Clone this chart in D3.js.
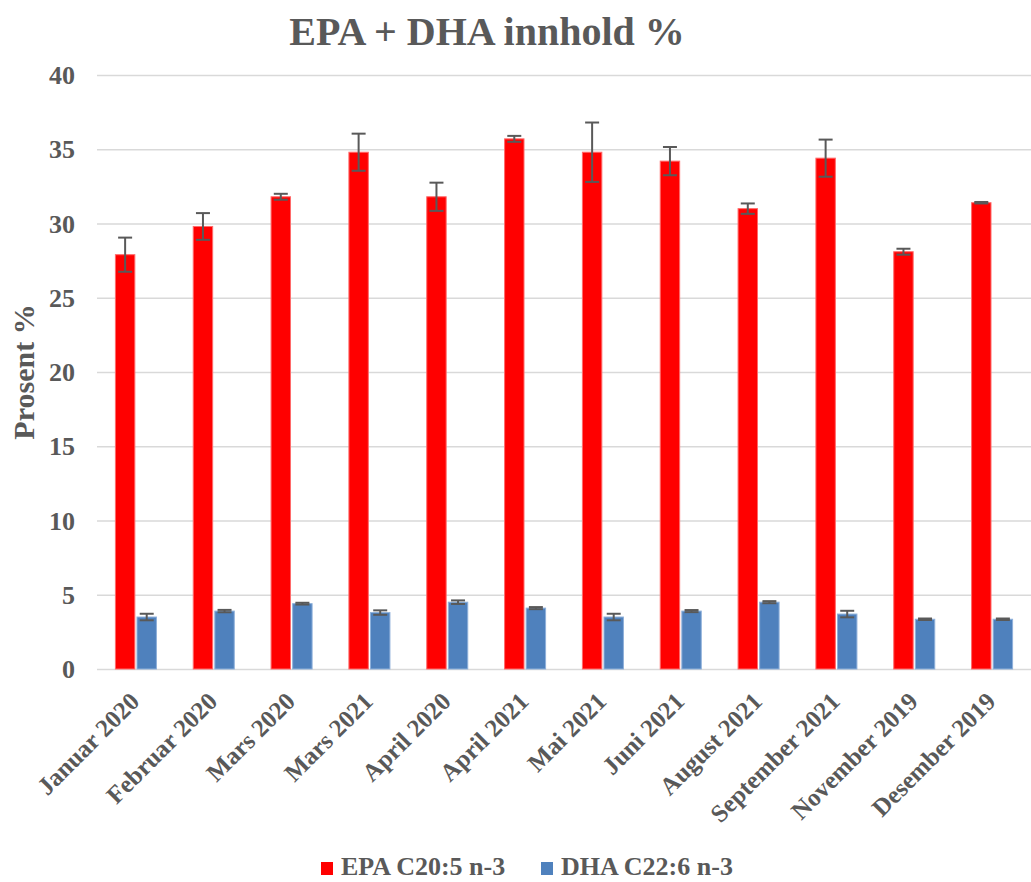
<!DOCTYPE html>
<html>
<head>
<meta charset="utf-8">
<script src="https://cdn.jsdelivr.net/npm/d3@7"></script>
</head>
<body style="margin:0;padding:0;background:#fff;">
<svg id="chart" width="1031" height="882" style="display:block;"></svg>
<script>
const categories = ["Januar 2020", "Februar 2020", "Mars 2020", "Mars 2021", "April 2020", "April 2021",
  "Mai 2021", "Juni 2021", "August 2021", "September 2021", "November 2019", "Desember 2019"];
const seriesNames = ["EPA C20:5 n-3", "DHA C22:6 n-3"];
const epaValues = [27.9, 29.8, 31.8, 34.8, 31.8, 35.7, 34.8, 34.2, 31.0, 34.4, 28.1, 31.4];
const epaErrors = [1.15, 0.9, 0.2, 1.25, 0.95, 0.2, 2.0, 0.95, 0.35, 1.25, 0.2, 0.05];
const dhaValues = [3.5, 3.9, 4.4, 3.8, 4.5, 4.1, 3.5, 3.9, 4.5, 3.7, 3.35, 3.35];
const dhaErrors = [0.22, 0.08, 0.06, 0.15, 0.12, 0.07, 0.22, 0.07, 0.07, 0.22, 0.05, 0.05];
const yTicks = [0, 5, 10, 15, 20, 25, 30, 35, 40];
const colors = ["#FF0000", "#4F81BD"];
const outlines = ["#FF6B6B", "#8EB0DA"];

const FONT = "'Liberation Serif', 'Times New Roman', Times, serif";
const TXT = "#595959";

const svg = d3.select("#chart").attr("font-family", FONT);
const margin = { left: 97, right: 0, top: 75, bottom: 213 };
const W = 1031, H = 882;
const plotW = W - margin.left - margin.right;
const plotH = H - margin.top - margin.bottom;

const g = svg.append("g").attr("transform", `translate(${margin.left},${margin.top})`);

const y = d3.scaleLinear().domain([0, 40]).range([plotH, 0]);
const x0 = d3.scaleBand().domain(categories).range([0, plotW]).paddingInner(0.473).paddingOuter(0.2365);
const x1 = d3.scaleBand().domain(seriesNames).range([0, x0.bandwidth()]).paddingInner(0.1);

function styleText(sel, size) {
  return sel.attr("font-family", FONT).attr("font-weight", "bold").attr("font-size", size)
    .style("font-family", FONT).style("font-weight", "bold").style("font-size", size + "px")
    .style("fill", TXT).attr("fill", TXT);
}

// gridlines + y labels
const yAxis = d3.axisLeft(y).tickValues(yTicks).tickSize(-plotW).tickPadding(22).tickFormat(d3.format("d"));
const ya = g.append("g").call(yAxis);
ya.attr("font-family", FONT).attr("font-size", 26);
ya.select(".domain").remove();
ya.selectAll(".tick line").attr("stroke", "#d9d9d9").attr("stroke-width", 1.5);
styleText(ya.selectAll(".tick text"), 26).attr("dy", "0.33em");

// data table
const table = categories.map((c, i) => ({
  cat: c,
  vals: [
    { s: seriesNames[0], v: epaValues[i], e: epaErrors[i], k: 0 },
    { s: seriesNames[1], v: dhaValues[i], e: dhaErrors[i], k: 1 }
  ]
}));

const groups = g.selectAll(".grp").data(table).enter().append("g")
  .attr("transform", d => `translate(${x0(d.cat)},0)`);

groups.selectAll("rect").data(d => d.vals).enter().append("rect")
  .attr("x", d => x1(d.s))
  .attr("width", x1.bandwidth())
  .attr("y", d => y(d.v))
  .attr("height", d => y(0) - y(d.v))
  .attr("fill", d => colors[d.k])
  .attr("stroke", d => outlines[d.k])
  .attr("stroke-width", 1);

// error bars
const capW = 7;
const eb = groups.selectAll(".eb").data(d => d.vals).enter().append("g")
  .attr("transform", d => `translate(${x1(d.s) + x1.bandwidth() / 2},0)`);
eb.append("line").attr("x1", 0).attr("x2", 0)
  .attr("y1", d => y(d.v + d.e)).attr("y2", d => y(d.v - d.e))
  .attr("stroke", "#595959").attr("stroke-width", 2);
eb.append("line").attr("x1", -capW).attr("x2", capW)
  .attr("y1", d => y(d.v + d.e)).attr("y2", d => y(d.v + d.e))
  .attr("stroke", "#595959").attr("stroke-width", 2);
eb.append("line").attr("x1", -capW).attr("x2", capW)
  .attr("y1", d => y(d.v - d.e)).attr("y2", d => y(d.v - d.e))
  .attr("stroke", "#595959").attr("stroke-width", 2);

// x labels
styleText(g.append("g").selectAll("text").data(categories).enter().append("text")
  .attr("transform", d => `translate(${x0(d) + x0.bandwidth() / 2 + 5},${plotH + 34}) rotate(-45)`)
  .attr("text-anchor", "end")
  .text(d => d), 25);

// title
styleText(svg.append("text").attr("x", 487).attr("y", 45).attr("text-anchor", "middle")
  .text("EPA + DHA innhold %"), 40);

// y axis title
styleText(svg.append("text").attr("transform", "translate(34,372) rotate(-90)").attr("text-anchor", "middle")
  .text("Prosent %"), 30);

// legend
const legendX = [321, 541];
const lg = svg.append("g").selectAll("g").data(seriesNames).enter().append("g")
  .attr("transform", (d, i) => `translate(${legendX[i]},875)`);
lg.append("rect").attr("x", 0).attr("y", -13).attr("width", 12).attr("height", 13)
  .attr("fill", (d, i) => colors[i]);
styleText(lg.append("text").attr("x", 20).attr("y", 0).text(d => d), 26);
</script>
</body>
</html>
